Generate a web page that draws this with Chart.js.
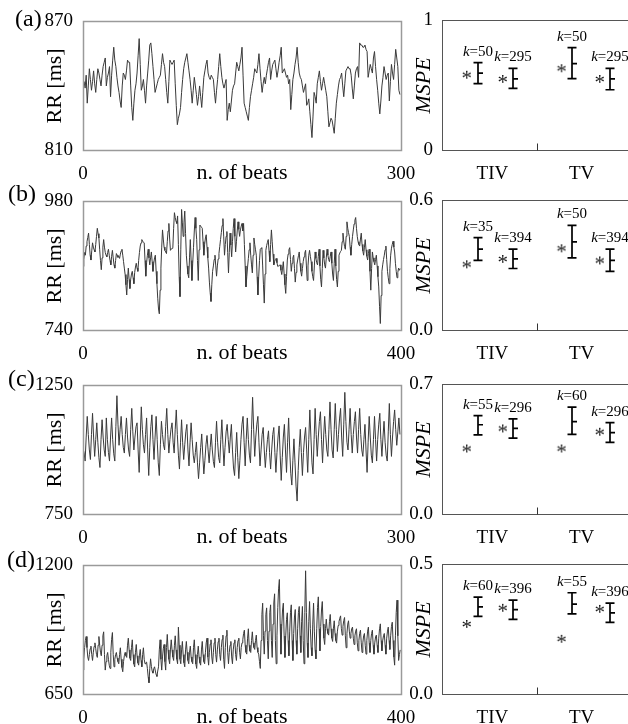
<!DOCTYPE html>
<html><head><meta charset="utf-8">
<script src="https://cdn.jsdelivr.net/npm/chart.js@4.4.1/dist/chart.umd.min.js"></script>
<style>
html,body{margin:0;padding:0;background:#fff;overflow:hidden;width:628px;height:724px;}
canvas{position:absolute;}
</style></head><body>
<canvas id="s0" width="430" height="190" style="left:0;top:0"></canvas>
<canvas id="m0" width="240" height="190" style="left:400px;top:0"></canvas>
<canvas id="s1" width="430" height="190" style="left:0;top:180px"></canvas>
<canvas id="m1" width="240" height="190" style="left:400px;top:180px"></canvas>
<canvas id="s2" width="430" height="190" style="left:0;top:364px"></canvas>
<canvas id="m2" width="240" height="190" style="left:400px;top:364px"></canvas>
<canvas id="s3" width="430" height="190" style="left:0;top:544px"></canvas>
<canvas id="m3" width="240" height="190" style="left:400px;top:544px"></canvas>
<script>
// ---------------- data ----------------
const panelLetters = ['(a)','(b)','(c)','(d)'];
const rrMin = [810, 740, 750, 650];
const rrMax = [870, 980, 1250, 1200];
const beatsMax = [300, 400, 300, 400];

const rrA = [837,842,839,845,832,840,848,843,838,842,847,841,837,843,848,846,843,840,845,849,
851,853,840,844,846,849,835,845,852,858,852,849,844,840,837,833,830,840,846,845,
843,847,852,851,851,840,830,824,832,838,841,846,854,862,850,838,840,843,838,832,
840,846,852,859,860,855,849,843,837,839,841,843,844,845,850,855,851,849,843,837,
832,842,852,851,850,851,852,841,831,822,825,827,830,837,843,848,851,853,855,851,
847,843,838,832,838,844,840,836,831,835,840,835,830,837,844,847,850,852,846,844,
843,845,844,843,837,832,838,843,849,855,849,844,841,839,841,843,824,829,832,828,
833,838,840,841,846,851,849,847,850,853,858,845,832,830,828,826,824,830,835,838,
841,844,848,847,846,850,855,848,842,837,841,844,841,845,848,851,853,843,847,850,
851,852,848,844,847,851,854,858,846,847,848,846,844,845,841,843,829,836,843,846,
850,853,858,851,846,844,843,840,837,839,841,831,832,834,828,822,816,826,837,835,
832,841,844,847,842,838,841,844,841,838,835,828,821,823,825,824,821,818,825,832,
836,840,843,844,846,840,835,841,847,848,849,848,848,845,839,834,840,846,848,849,
844,860,859,859,858,858,859,857,856,844,847,850,848,846,853,856,849,843,838,832,
827,833,840,844,849,846,843,845,846,833,842,850,846,843,850,857,853,849,838,836];

const rrB = [859,872,885,880,897,905,913,921,900,880,871,888,903,895,890,886,900,915,930,920,
912,890,870,853,875,895,909,895,885,880,877,885,891,880,870,862,878,889,875,862,
856,870,883,880,876,878,874,882,888,891,880,868,856,844,825,806,835,856,835,818,
835,845,850,838,827,848,858,865,856,850,870,885,897,903,909,906,904,903,870,841,
866,880,891,875,862,875,886,868,850,865,875,880,850,827,800,780,771,815,856,895,
927,910,895,889,886,883,905,925,939,910,889,891,893,894,930,959,950,943,939,953,
900,840,803,890,965,940,915,940,962,920,880,860,845,838,875,909,870,833,865,894,
925,950,930,909,870,833,890,936,934,932,930,905,880,900,912,918,895,875,856,830,
810,794,825,850,860,872,880,860,841,860,873,883,896,909,922,935,948,914,880,900,
915,924,885,847,885,921,899,877,905,930,948,915,886,905,925,942,928,915,927,934,
939,925,939,900,860,821,840,858,874,890,903,880,862,847,880,912,900,890,880,840,
806,840,870,891,893,894,860,825,791,845,889,898,904,909,888,868,900,927,905,882,
862,868,872,874,866,859,860,861,862,852,844,856,868,845,825,809,840,871,882,890,
894,872,850,865,875,880,855,830,848,862,871,879,886,865,850,841,855,868,877,884,
889,860,833,860,880,889,878,868,850,840,833,860,886,874,866,862,878,891,860,835,
821,855,889,875,862,856,875,891,880,872,868,878,886,865,845,833,865,891,860,835,
821,850,880,884,887,889,905,921,906,896,891,915,942,930,922,915,895,880,900,915,
927,938,945,950,930,915,905,900,897,910,921,900,888,880,895,909,890,878,871,883,
891,850,815,855,886,875,868,862,872,880,860,840,821,785,753,805,850,862,872,880,
890,897,872,850,838,827,855,880,893,900,906,895,886,865,850,838,848,856,852,855];

const rrC = [1005,990,957,1050,1130,1060,1000,963,1060,1142,1050,975,1040,1105,1030,970,932,1040,1117,1050,
1000,975,1124,1040,990,957,1050,1124,1040,985,957,1090,1210,1100,1018,1080,1130,1060,1010,988,
1060,1124,1050,1000,975,1080,1161,1070,1000,1050,1090,1105,1000,913,1050,1167,1080,1020,988,1060,
1124,1000,901,1010,1090,1136,1040,963,1050,1130,1040,950,901,1020,1111,1060,1020,1000,1090,1161,
1060,988,1040,1080,1105,1030,988,1080,1155,1060,980,926,1030,1117,1030,963,1020,1070,1099,1000,
938,1030,1105,1040,980,950,990,1031,950,889,950,1010,1062,980,907,960,1020,1056,1000,950,
1010,1062,1000,955,932,1030,1111,1030,970,950,1040,1117,1020,938,1010,1070,1099,1040,988,1050,
1099,1000,930,901,990,1068,970,889,960,1040,1100,1130,1030,938,1040,1124,1040,980,950,1080,
1204,1080,975,1050,1100,1130,1030,938,1000,1060,1087,1000,932,990,1040,1074,990,926,1000,1060,
1087,990,913,990,1050,1093,980,882,970,1050,1099,1000,913,1030,1124,1000,910,864,960,1043,
950,860,802,920,1010,1080,990,901,990,1050,1087,1000,913,1040,1155,1050,950,907,1040,1161,
1060,975,1050,1110,1148,1040,950,1050,1130,1060,1000,975,1080,1186,1080,1000,969,1080,1180,1080,
994,1060,1120,1161,1050,975,1100,1223,1110,1030,1000,1080,1161,1060,988,1060,1110,1148,1050,988,
1080,1161,1060,1000,975,1040,1099,1000,913,1030,1130,1050,980,950,1040,1130,1040,957,1040,1100,
1142,1040,975,1050,1111,1030,980,957,1070,1180,1060,975,1050,1110,1155,1080,1018,1070,1124,1060];

const rrD = [754,800,850,880,897,850,810,795,820,845,856,820,795,830,855,870,845,820,808,860,
897,860,830,815,860,900,917,820,754,790,815,829,800,775,761,830,885,914,820,768,
800,820,829,805,790,781,820,849,800,765,747,790,815,829,815,808,860,890,840,805,
795,850,883,820,780,768,830,863,815,785,775,815,842,795,768,820,849,800,781,785,
788,760,725,700,760,802,770,750,741,760,768,750,735,727,750,768,840,883,800,754,
810,845,863,790,754,850,906,840,800,781,840,883,840,810,795,860,900,840,800,781,
937,860,800,781,840,876,820,785,768,840,876,830,795,781,830,856,810,790,781,850,
883,820,780,761,820,856,810,785,775,840,876,820,790,781,830,870,890,810,775,830,
865,883,810,781,830,870,890,820,788,840,875,890,820,795,850,885,903,800,761,850,
900,924,830,781,830,860,876,810,781,840,870,883,820,795,850,880,890,830,802,850,
870,883,910,924,860,830,822,890,930,860,835,829,880,917,870,850,842,880,903,850,
830,822,790,761,880,990,1039,900,822,920,990,1019,880,802,920,1000,1032,880,808,950,
1040,1079,880,781,900,1020,1100,1140,950,822,940,1010,1039,900,808,900,970,998,880,815,
920,1000,1032,880,795,910,980,1012,880,822,930,1000,1025,900,829,960,1025,880,781,1000,
1177,1000,870,808,960,1046,930,850,815,950,1039,920,840,802,930,1020,1066,930,836,940,
1010,1046,950,890,863,930,971,930,910,903,960,991,930,890,876,930,964,910,880,869,
920,944,960,975,985,930,903,940,965,978,900,849,910,950,964,920,890,910,930,937,
890,863,900,920,930,870,836,880,910,924,870,829,870,900,910,860,822,880,920,937,
870,829,880,910,924,860,822,870,895,903,860,829,890,930,951,880,836,880,900,910,
860,822,890,920,937,880,842,900,940,958,880,810,775,900,1000,1052,900,795,820,840];

const rrSeries = [rrA, rrB, rrC, rrD];

const categories = ['TIV', 'TV'];
const categoryPos = [0.53, 1.47];
const barX  = [0.376, 0.75, 1.365, 1.765];
const starX = [0.263, 0.642, 1.26, 1.663];
const mspeMax = [1, 0.6, 0.7, 0.5];
const mspeTickLabels = [['0','1'], ['0.0','0.6'], ['0.0','0.7'], ['0.0','0.5']];
const kLabels = [['50','295','50','295'], ['35','394','50','394'], ['55','296','60','296'], ['60','396','55','396']];
const mspeLow  = [[0.514,0.477,0.553,0.467], [0.323,0.286,0.335,0.273], [0.428,0.411,0.431,0.388], [0.300,0.289,0.310,0.277]];
const mspeHigh = [[0.676,0.632,0.791,0.632], [0.428,0.375,0.485,0.375], [0.532,0.515,0.578,0.494], [0.374,0.363,0.391,0.351]];
const mspeMid  = [[0.595,0.550,0.668,0.550], [0.375,0.330,0.409,0.323], [0.483,0.463,0.500,0.440], [0.337,0.326,0.347,0.314]];
const mspeStar = [[0.582,0.550,0.632,0.550], [0.305,0.330,0.379,0.323], [0.355,0.463,0.355,0.445], [0.271,0.333,0.214,0.329]];

// ---------------- drawing ----------------
const FAM = "'Liberation Serif','Times New Roman',serif";
Chart.defaults.font.family = FAM;
Chart.defaults.color = '#000';

const tickFont = {size: 19, family: FAM};
const titleFont = {size: 22, family: FAM};
const noGrid = {display: false, drawTicks: false};

const framePlugin = {
  id: 'frame',
  afterDraw(chart, args, o) {
    const {ctx, chartArea: c} = chart;
    ctx.save();
    ctx.strokeStyle = o.color; ctx.lineWidth = o.width;
    ctx.strokeRect(Math.round(c.left) + 0.5, Math.round(c.top) + 0.5, Math.round(c.right - c.left), Math.round(c.bottom - c.top));
    ctx.restore();
  }
};

const letterPlugin = {
  id: 'letter',
  afterDraw(chart, args, o) {
    const ctx = chart.ctx;
    ctx.save();
    ctx.font = '24px ' + FAM; ctx.fillStyle = '#000';
    ctx.textAlign = 'left'; ctx.textBaseline = 'middle';
    ctx.fillText(o.text, o.x, o.y);
    ctx.restore();
  }
};

const midTickPlugin = {
  id: 'midTick',
  afterDraw(chart) {
    const {ctx, scales: {x}, chartArea: c} = chart;
    const px = Math.round(x.getPixelForValue(1)) + 0.5;
    ctx.save(); ctx.strokeStyle = '#333'; ctx.lineWidth = 1;
    ctx.beginPath(); ctx.moveTo(px, c.bottom); ctx.lineTo(px, c.bottom - 7); ctx.stroke();
    ctx.restore();
  }
};

const errorBarPlugin = {
  id: 'errorBars',
  afterDatasetsDraw(chart, args, o) {
    const {ctx, scales: {x, y}} = chart;
    ctx.save();
    ctx.strokeStyle = '#000'; ctx.lineWidth = 1.7; ctx.lineCap = 'butt';
    o.low.forEach((lo, j) => {
      const px = Math.round(x.getPixelForValue(o.x[j]));
      const yl = y.getPixelForValue(lo), yh = y.getPixelForValue(o.high[j]), ym = y.getPixelForValue(o.mid[j]);
      ctx.beginPath();
      ctx.moveTo(px, yl); ctx.lineTo(px, yh);
      ctx.moveTo(px - 4.5, yh); ctx.lineTo(px + 4.5, yh);
      ctx.moveTo(px - 4.5, yl); ctx.lineTo(px + 4.5, yl);
      ctx.moveTo(px, ym); ctx.lineTo(px + 5, ym);
      ctx.stroke();
      const f1 = 'italic 15px ' + FAM, f2 = '15px ' + FAM;
      ctx.font = f1; const w1 = ctx.measureText('k').width;
      ctx.font = f2; const rest = '=' + o.labels[j]; const w2 = ctx.measureText(rest).width;
      const sx = px - (w1 + w2) / 2; const by = yh - 7;
      ctx.fillStyle = '#000'; ctx.textAlign = 'left'; ctx.textBaseline = 'alphabetic';
      ctx.font = f1; ctx.fillText('k', sx, by);
      ctx.font = f2; ctx.fillText(rest, sx + w1, by);
    });
    ctx.restore();
  }
};

function makeAsterisk() {
  const c = document.createElement('canvas'); c.width = 16; c.height = 16;
  const g = c.getContext('2d');
  g.font = '21px ' + FAM; g.fillStyle = '#1a1a1a';
  g.textAlign = 'left'; g.textBaseline = 'alphabetic';
  const m = g.measureText('*');
  const bx = 8 - (m.actualBoundingBoxRight - m.actualBoundingBoxLeft) / 2;
  const by = 8 + (m.actualBoundingBoxAscent - m.actualBoundingBoxDescent) / 2;
  g.fillText('*', bx, by);
  return c;
}
const asterisk = makeAsterisk();

const letterPos = [{x: 15, y: 20}, {x: 8, y: 15}, {x: 8, y: 16}, {x: 7, y: 17}];

function seriesChart(i) {
  const values = rrSeries[i];
  new Chart(document.getElementById('s' + i), {
    type: 'line',
    data: {datasets: [{
      data: values.map((v, k) => ({x: k, y: v})),
      borderColor: '#3a3a3a', borderWidth: 1, pointRadius: 0, tension: 0, fill: false
    }]},
    options: {
      responsive: false, animation: false, events: [],
      layout: {padding: {top: 15, right: 29, left: 0, bottom: 10}},
      plugins: {
        legend: {display: false}, tooltip: {enabled: false},
        frame: {color: '#9a9a9a', width: 1.5},
        letter: {text: panelLetters[i], x: letterPos[i].x, y: letterPos[i].y}
      },
      scales: {
        x: {
          type: 'linear', min: 0, max: beatsMax[i],
          afterFit: s => { s.height = 29.5; },
          afterBuildTicks: s => { s.ticks = [{value: 0}, {value: beatsMax[i]}]; },
          grid: noGrid, border: {display: false},
          ticks: {font: tickFont, color: '#000', padding: 12, maxRotation: 0, autoSkip: false, callback: v => String(v)},
          title: {display: true, text: 'n. of beats', font: titleFont, color: '#000', padding: {top: 0, bottom: -6}}
        },
        y: {
          type: 'linear', min: rrMin[i], max: rrMax[i],
          afterFit: s => { s.width = 83; },
          afterBuildTicks: s => { s.ticks = [{value: rrMin[i]}, {value: rrMax[i]}]; },
          grid: noGrid, border: {display: false},
          ticks: {font: tickFont, color: '#000', padding: 10, callback: v => String(v)},
          title: {display: true, text: 'RR [ms]', font: titleFont, color: '#000', padding: {top: 42, bottom: 0}}
        }
      }
    },
    plugins: [framePlugin, letterPlugin]
  });
}

function mspeChart(i) {
  new Chart(document.getElementById('m' + i), {
    type: 'scatter',
    data: {datasets: [{
      data: starX.map((x, j) => ({x: x, y: mspeStar[i][j]})),
      pointStyle: asterisk, pointRadius: 5
    }]},
    options: {
      responsive: false, animation: false, events: [],
      layout: {padding: {top: 15, right: 8, left: 0, bottom: 10}},
      plugins: {
        legend: {display: false}, tooltip: {enabled: false},
        frame: {color: '#555', width: 1},
        errorBars: {x: barX, low: mspeLow[i], high: mspeHigh[i], mid: mspeMid[i], labels: kLabels[i]}
      },
      scales: {
        x: {
          type: 'linear', min: 0, max: 2,
          afterFit: s => { s.height = 29.5; },
          afterBuildTicks: s => { s.ticks = categoryPos.map(v => ({value: v})); },
          grid: noGrid, border: {display: false},
          ticks: {font: tickFont, color: '#000', padding: 12, maxRotation: 0, autoSkip: false,
                  callback: (v, idx) => categories[idx]}
        },
        y: {
          type: 'linear', min: 0, max: mspeMax[i],
          afterFit: s => { s.width = 42; },
          afterBuildTicks: s => { s.ticks = [{value: 0}, {value: mspeMax[i]}]; },
          grid: noGrid, border: {display: false},
          ticks: {font: tickFont, color: '#000', padding: 9, callback: (v, idx) => mspeTickLabels[i][idx]},
          title: {display: true, text: 'MSPE', font: {size: 22, family: FAM, style: 'italic'}, color: '#000', padding: {top: 11, bottom: 0}}
        }
      }
    },
    plugins: [framePlugin, midTickPlugin, errorBarPlugin]
  });
}

for (let i = 0; i < 4; i++) { seriesChart(i); mspeChart(i); }
</script>
</body></html>
